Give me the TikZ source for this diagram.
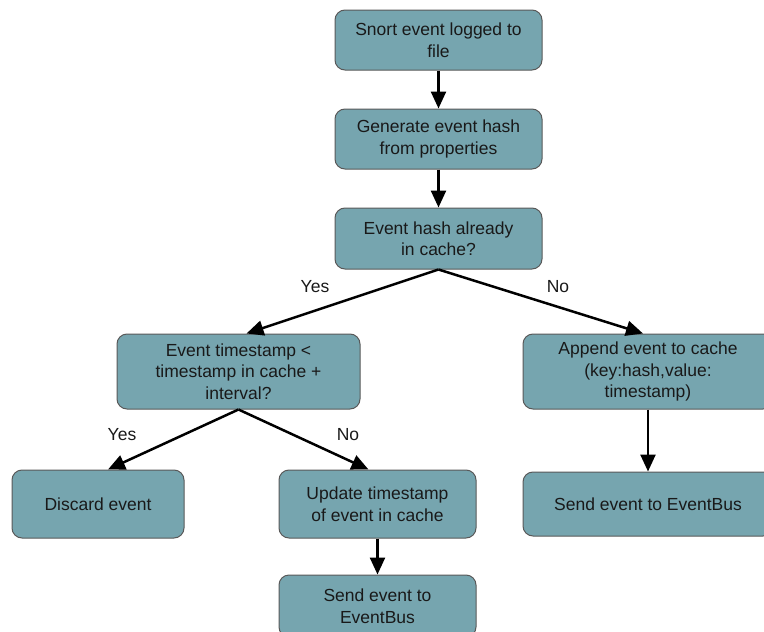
\documentclass[tikz,border=0pt]{standalone}
\usepackage{fontspec}
\setmainfont{Liberation Sans}
\usepackage{xcolor}
\usetikzlibrary{arrows.meta,positioning}

\definecolor{boxfill}{HTML}{76A5AF}
\definecolor{boxline}{HTML}{595959}

\begin{document}
\begin{tikzpicture}[
  x=1pt,y=-1pt,
  node distance=38pt,
  box/.style={rectangle,draw=boxline,line width=1pt,rounded corners=10pt,align=center,fill=boxfill,
    font=\fontsize{17.5}{21.5}\selectfont,text=black!90,inner sep=2pt},
  arr/.style={-{Triangle[length=17pt,width=15pt]},line width=2.5pt},
  lbl/.style={font=\fontsize{17.5}{21.5}\selectfont,text=black!90}
]
\clip (0,0) rectangle (764,632);
\node[box,minimum width=207pt,minimum height=60pt] at (438.5,40) (logged) {Snort event logged to\\file};
\node[box,minimum width=207pt,minimum height=60pt,below=of logged] (hash) {Generate event hash\\from properties};
\node[box,minimum width=207pt,minimum height=61pt,below=of hash] (incache) {Event hash already\\in cache?};
\node[box,minimum width=243pt,minimum height=75pt] at (238.5,371.5) (check) {Event timestamp <\\timestamp in cache +\\interval?};
\node[box,minimum width=250pt,minimum height=75pt] at (648,371.5) (append) {Append event to cache\\(key:hash,value:\\timestamp)};
\node[box,minimum width=172pt,minimum height=68pt] at (98,504) (discard) {Discard event};
\node[box,minimum width=197pt,minimum height=68pt] at (377.5,504) (update) {Update timestamp\\of event in cache};
\node[box,minimum width=250pt,minimum height=64pt,below=62pt of append] (sendright) {Send event to EventBus};
\node[box,minimum width=197pt,minimum height=62pt,below=36pt of update] (sendbottom) {Send event to\\EventBus};
\draw[arr] (logged) -- (hash);
\draw[arr] (hash) -- (incache);
\draw[arr] (incache.south) -- ([xshift=8pt]check.north);
\draw[arr] (incache.south) -- ([xshift=-5pt]append.north);
\draw[arr] (check.south) -- ([xshift=10pt]discard.north);
\draw[arr] (check.south) -- ([xshift=-9pt]update.north);
\draw[arr] (append) -- (sendright);
\draw[arr] (update) -- (sendbottom);
\node[lbl] at (315,287) (yes1) {Yes};
\node[lbl] at (558,287) (no1) {No};
\node[lbl] at (122,435) (yes2) {Yes};
\node[lbl] at (348,435) (no2) {No};
\end{tikzpicture}
\end{document}
